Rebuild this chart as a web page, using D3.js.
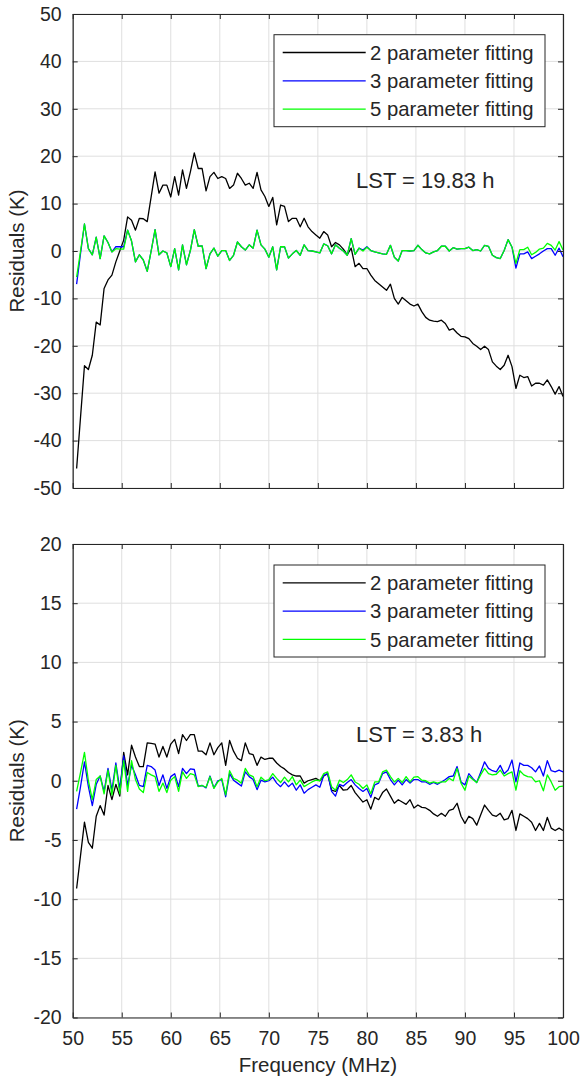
<!DOCTYPE html>
<html>
<head>
<meta charset="utf-8">
<script src="https://cdn.jsdelivr.net/npm/d3@7"></script>
<style>
  html, body { margin: 0; padding: 0; background: #fff; }
  svg { display: block; }
  text { font-family: "Liberation Sans", Arial, Helvetica, sans-serif; fill: #262626; }
</style>
</head>
<body>
<svg id="chart" width="584" height="1078"></svg>
<script>
// ---------- data ----------
const freq = [
  50.4,50.8,51.2,51.6,52.0,52.4,52.8,53.2,53.6,54.0,
  54.4,54.8,55.2,55.6,56.0,56.4,56.8,57.2,57.6,58.0,
  58.4,58.8,59.2,59.6,60.0,60.4,60.8,61.2,61.6,62.0,
  62.4,62.8,63.2,63.6,64.0,64.4,64.8,65.2,65.6,66.0,
  66.4,66.8,67.2,67.6,68.0,68.4,68.8,69.2,69.6,70.0,
  70.4,70.8,71.2,71.6,72.0,72.4,72.8,73.2,73.6,74.0,
  74.4,74.8,75.2,75.6,76.0,76.4,76.8,77.2,77.6,78.0,
  78.4,78.8,79.2,79.6,80.0,80.4,80.8,81.2,81.6,82.0,
  82.4,82.8,83.2,83.6,84.0,84.4,84.8,85.2,85.6,86.0,
  86.4,86.8,87.2,87.6,88.0,88.4,88.8,89.2,89.6,90.0,
  90.4,90.8,91.2,91.6,92.0,92.4,92.8,93.2,93.6,94.0,
  94.4,94.8,95.2,95.6,96.0,96.4,96.8,97.2,97.6,98.0,
  98.4,98.8,99.2,99.6,100.0
];

// Top panel, LST = 19.83 h
const top2 = [
  -45.9,-35,-24.2,-25,-22,-15,-15.6,-7.9,-6.1,-5.1,
  -2.3,0,2.3,7.2,6.5,4.4,6.9,6.8,6.2,11.4,
  16.7,12.2,13.9,13.9,11.4,15.7,11.8,17.1,13.2,16.7,
  20.7,17.4,17.4,12.7,15.7,16.6,15.3,15.7,15.3,13.2,
  13.9,16.4,15.3,13.9,14.3,13.2,16.6,12.9,11.5,9.4,
  11.3,5.5,9.7,9.4,6.2,6.9,6.9,5.1,6.9,5.1,
  4.1,3.4,2.7,4.1,3.4,0.9,1.8,1.3,0.4,-0.8,
  0.6,-3.3,-2.6,-3.7,-3.7,-5.1,-6.2,-6.9,-7.6,-8.3,
  -7.0,-10.0,-11.2,-9.8,-10.5,-11.2,-11.6,-11.2,-12.8,-14.0,
  -14.6,-14.8,-14.9,-14.6,-15.3,-16.7,-16.4,-17.3,-18.0,-18.1,
  -18.5,-19.5,-20.1,-20.8,-20.1,-20.8,-23.4,-24.3,-25.0,-24.1,
  -22.0,-24.4,-29.0,-26.2,-26.7,-26.5,-28.5,-27.9,-27.9,-28.3,
  -27.2,-28.6,-30.2,-28.6,-30.7
];
const top3 = [
  -7.0,-0.5,5.7,0.5,-0.8,2.9,-1.6,3.2,1.8,-0.2,
  0.9,0.9,0.9,4.4,2.1,-2.3,-0.8,-1.9,-4.3,0,
  4.5,-0.8,0,-0.4,-3.3,0.5,-4.0,1.3,-2.9,0.1,
  4.5,1.0,1.1,-3.7,-0.6,0.6,-1.1,0.1,0.1,-2.0,
  -0.9,1.9,0.9,0.2,1.3,0.6,4.4,1.3,0.4,-1.3,
  0.9,-4.0,0.9,0.9,-1.5,-0.6,0.1,-0.9,1.3,0.1,
  0,-0.2,-0.4,1.5,1.1,-0.6,1.3,0.6,0,-0.9,
  2.6,-0.7,0.6,0.2,0.9,0.1,-0.2,-0.4,-0.6,-0.7,
  1.2,-1.3,-2.1,0.1,0.1,0,0.1,1.2,0.3,-0.4,
  -0.6,-0.2,0.1,1.0,1.0,0,0.7,0.4,0.5,0.5,
  0.8,0.1,0.3,0,1.2,1.0,-0.9,-1.4,-1.6,0.1,
  2.4,0.8,-3.6,-0.6,-0.6,-0.2,-1.6,-1.1,-0.6,0,
  0.5,0.5,-0.9,0.6,-1.2
];
const top5 = [
  -5.5,0,5.7,0.5,-0.8,2.9,-1.6,3.2,1.8,-0.2,
  0.5,0.4,0.4,4.4,2.1,-2.3,-0.8,-1.9,-4.3,0,
  4.5,-0.8,0,-0.4,-3.3,0.5,-4.0,1.3,-2.9,0.1,
  4.5,1.0,1.1,-3.7,-0.6,0.6,-1.1,0.1,0.1,-2.0,
  -0.9,1.9,0.9,0.2,1.3,0.6,4.4,1.3,0.4,-1.3,
  0.9,-4.0,0.9,0.9,-1.5,-0.6,0.1,-0.9,1.3,0.1,
  0,-0.2,-0.4,1.5,1.1,-0.6,1.3,0.6,0,-0.9,
  2.6,-0.7,0.6,0,0.8,0.1,-0.2,-0.4,-0.6,-0.7,
  1.2,-1.3,-2.1,0.1,0.1,0,0.1,1.2,0.3,-0.4,
  -0.6,-0.2,0.1,1.0,1.0,0,0.7,0.4,0.5,0.5,
  0.8,0.1,0.3,0,1.2,1.0,-0.9,-1.4,-1.6,0.1,
  2.4,0.8,-2.6,0.3,0.3,0.8,-0.8,-0.3,0.4,0.6,
  1.6,1.2,0.2,2.0,0.2
];

// Bottom panel, LST = 3.83 h
const bot2 = [
  -9.1,-6.3,-3.5,-5.2,-5.7,-3.0,-2.1,-2.9,-0.4,-1.6,
  -0.3,-1.3,2.4,0.5,3.0,2.0,1.2,1.2,3.2,3.15,
  3.1,2.0,2.9,2.0,3.1,3.5,2.3,3.9,3.4,3.9,
  3.9,2.5,2.5,2.2,3.2,2.2,2.8,3.2,1.3,3.4,
  2.5,1.9,1.7,3.2,2.3,2.2,1.3,2.0,1.8,1.9,
  1.9,1.5,1.2,1.0,0.7,0.5,0.4,0.4,-0.2,0,
  0.1,0.2,0,0.4,0.6,-0.8,-0.9,-0.4,-0.8,-0.75,
  -0.4,-1.0,-1.4,-1.8,-1.6,-2.4,-1.4,-1.6,-1.0,-0.7,
  -1.3,-1.9,-1.6,-1.8,-2.0,-1.6,-2.3,-2.05,-2.25,-2.3,
  -2.5,-2.8,-3.0,-2.75,-3.0,-2.5,-2.4,-1.9,-3.0,-3.6,
  -3.0,-3.2,-3.75,-2.9,-2.05,-2.5,-2.9,-3.0,-2.75,-3.3,
  -3.2,-2.5,-4.2,-2.8,-3.0,-3.2,-3.5,-4.2,-3.6,-4.2,
  -3.1,-4.0,-4.2,-4.0,-4.2
];
const bot3 = [
  -2.4,-0.5,1.6,-0.5,-2.1,-0.3,0.4,-0.9,1.05,-0.8,
  1.5,-0.7,2.1,-0.4,1.3,0.5,-0.4,-0.5,1.3,1.2,
  0.9,-0.4,0.5,-0.65,0.35,0.6,-0.5,1.05,0.6,1.0,
  0.95,-0.45,-0.4,-0.6,0.4,-0.6,0,0.1,-1.35,0.6,
  0.05,-0.2,-0.45,0.75,0.35,0.1,-0.75,0.05,-0.1,0,
  0.3,-0.2,-0.5,-0.1,-0.5,-0.2,-0.8,-0.35,-1.05,-0.75,
  -0.55,-0.35,-0.55,0.45,0.6,-0.9,-1.3,-0.3,-0.45,-0.15,
  0.1,-0.35,-0.65,-0.9,-0.65,-1.4,-0.35,-0.2,0.6,0.75,
  0.1,-0.35,0.05,-0.35,0.1,-0.2,0.1,0.1,-0.1,-0.1,
  -0.3,-0.15,-0.3,-0.1,0.1,0.35,0.4,1.2,-0.1,-0.35,
  0.6,0.2,-0.15,0.7,1.6,1.05,0.85,0.75,1.3,0.6,
  0.9,1.75,-0.1,1.5,1.3,1.3,1.1,0.75,1.25,0.4,
  1.7,0.85,0.75,0.9,0.75
];
const bot5 = [
  -0.9,0.7,2.4,0.0,-1.6,0.1,0.4,-1.1,0.9,-1.2,
  1.3,-1.1,1.7,-0.9,1.7,0.1,-0.7,-1.0,0.7,0.5,
  0.35,-0.9,-0.2,-1.0,0.05,0.35,-0.9,0.75,0.2,0.6,
  0.5,-0.5,-0.4,-0.55,0.35,-0.65,-0.1,0.2,-1.2,0.85,
  0.2,0.05,-0.2,1.05,0.5,0.35,-0.5,0.3,0,0.1,
  0.6,0.2,-0.15,0.3,-0.1,0.35,-0.35,0.05,-0.5,-0.3,
  -0.1,0.05,0,0.6,0.75,-0.5,-0.8,0.05,-0.15,0.1,
  0.5,-0.1,-0.3,-0.65,-0.35,-1.1,-0.1,-0.1,0.75,0.9,
  0.35,-0.1,0.2,-0.15,0.35,-0.1,0.3,0.35,0.05,0,
  -0.2,-0.1,-0.2,-0.1,-0.1,0.2,0,1.05,-0.2,-0.8,
  0.4,0.1,-0.15,0.5,1.05,0.6,0.5,0.55,0.9,0.4,
  0.6,0.75,-0.8,0.85,0.5,0.35,0.3,-0.1,0,-0.85,
  0.5,-0.1,-0.8,-0.5,-0.45
];

const seriesNames = ["2 parameter fitting", "3 parameter fitting", "5 parameter fitting"];
const seriesColors = ["#000000", "#0000ff", "#00ff00"];
const xTicks = [50,55,60,65,70,75,80,85,90,95,100];
const topYTicks = [-50,-40,-30,-20,-10,0,10,20,30,40,50];
const botYTicks = [-20,-15,-10,-5,0,5,10,15,20];
const panelLabels = ["LST = 19.83 h", "LST = 3.83 h"];

// ---------- layout ----------
const svg = d3.select("#chart");
const L = 72.7, R = 563;
const axisColor = "#262626", gridColor = "#dfdfdf";
const x = d3.scaleLinear().domain([50,100]).range([L, R]);
const fmt = d => String(d);   // plain hyphen-minus, as in the original

const panels = [
  { y: d3.scaleLinear().domain([-50,50]).range([488,14]), ticks: topYTicks,
    data: [top2, top3, top5], label: panelLabels[0], showX: false,
    legendTop: 34.7, lstY: 188 },
  { y: d3.scaleLinear().domain([-20,20]).range([1017.5,544]), ticks: botYTicks,
    data: [bot2, bot3, bot5], label: panelLabels[1], showX: true,
    legendTop: 565, lstY: 742 }
];

panels.forEach((p, pi) => {
  const g = svg.append("g");
  const [yB, yT] = p.y.range();

  // grid
  g.append("g").selectAll("line").data(xTicks).join("line")
    .attr("x1", d => x(d)).attr("x2", d => x(d))
    .attr("y1", yT).attr("y2", yB)
    .attr("stroke", gridColor).attr("stroke-width", 1);
  g.append("g").selectAll("line").data(p.ticks).join("line")
    .attr("x1", L).attr("x2", R)
    .attr("y1", d => p.y(d)).attr("y2", d => p.y(d))
    .attr("stroke", gridColor).attr("stroke-width", 1);

  // lines
  const line = d3.line().x((d, i) => x(freq[i])).y(d => p.y(d));
  p.data.forEach((arr, si) => {
    g.append("path").datum(arr)
      .attr("d", line)
      .attr("fill", "none")
      .attr("stroke", seriesColors[si])
      .attr("stroke-width", 1.3)
      .attr("stroke-linejoin", "round");
  });

  // axes with inward ticks
  const tk = 5;
  const bottomAxis = d3.axisBottom(x).tickValues(xTicks).tickSizeInner(-tk).tickSizeOuter(0)
    .tickPadding(14).tickFormat(p.showX ? fmt : () => "");
  const topAxis = d3.axisTop(x).tickValues(xTicks).tickSizeInner(-tk).tickSizeOuter(0).tickFormat(() => "");
  const leftAxis = d3.axisLeft(p.y).tickValues(p.ticks).tickSizeInner(-tk).tickSizeOuter(0)
    .tickPadding(11).tickFormat(fmt);
  const rightAxis = d3.axisRight(p.y).tickValues(p.ticks).tickSizeInner(-tk).tickSizeOuter(0).tickFormat(() => "");

  const styleAxis = sel => {
    sel.selectAll("path").attr("stroke", axisColor).attr("stroke-width", 1.2);
    sel.selectAll("line").attr("stroke", axisColor).attr("stroke-width", 1);
    sel.selectAll("text").attr("fill", axisColor)
      .style("font-family", '"Liberation Sans", Arial, sans-serif').style("font-size", "19.5px");
  };
  g.append("g").attr("transform", `translate(0,${yB})`).call(bottomAxis).call(styleAxis);
  g.append("g").attr("transform", `translate(0,${yT})`).call(topAxis).call(styleAxis);
  g.append("g").attr("transform", `translate(${L},0)`).call(leftAxis).call(styleAxis);
  g.append("g").attr("transform", `translate(${R},0)`).call(rightAxis).call(styleAxis);

  // y label
  g.append("text")
    .attr("transform", `translate(24,${(yT + yB) / 2}) rotate(-90)`)
    .attr("text-anchor", "middle")
    .style("font-size", "20.5px")
    .text("Residuals (K)");

  // LST annotation
  g.append("text").attr("x", 356).attr("y", p.lstY)
    .style("font-size", "22px").text(p.label);

  // legend
  const lg = g.append("g");
  const lx0 = 274, lx1 = 545, rowH = 28.3;
  lg.append("rect").attr("x", lx0).attr("y", p.legendTop)
    .attr("width", lx1 - lx0).attr("height", 92)
    .attr("fill", "#fff").attr("stroke", axisColor).attr("stroke-width", 1);
  seriesNames.forEach((nm, si) => {
    const ry = p.legendTop + 17.8 + si * rowH;
    lg.append("line").attr("x1", 282.7).attr("x2", 365.7).attr("y1", ry).attr("y2", ry)
      .attr("stroke", seriesColors[si]).attr("stroke-width", 1.3);
    lg.append("text").attr("x", 370).attr("y", ry).attr("dy", "0.35em")
      .style("font-size", "20.3px").text(nm);
  });
});

// x label
svg.append("text").attr("x", (L + R) / 2).attr("y", 1072)
  .attr("text-anchor", "middle").style("font-size", "20.5px")
  .text("Frequency (MHz)");
</script>
</body>
</html>
